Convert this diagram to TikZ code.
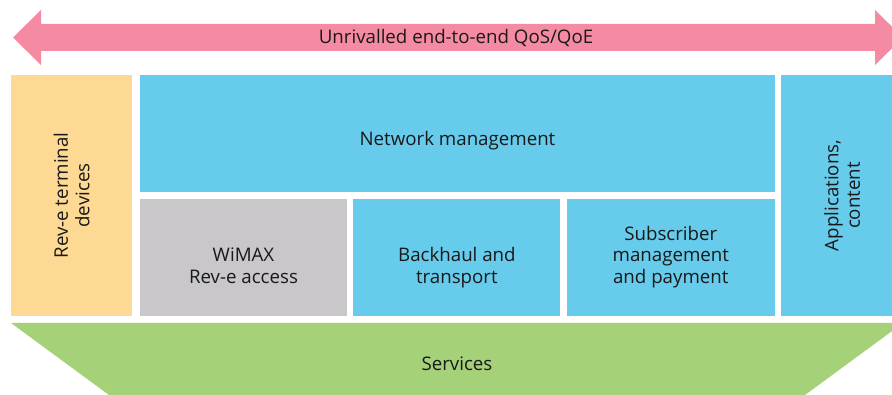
\documentclass[tikz,border=0pt]{standalone}
\usepackage{fontspec}
\setmainfont{Open Sans}
\usepackage{xcolor}
\usepackage{tikz}
\usetikzlibrary{positioning}

\definecolor{qospink}{HTML}{F58BA3}
\definecolor{devorange}{HTML}{FDD993}
\definecolor{netblue}{HTML}{67CBEB}
\definecolor{accgray}{HTML}{C9C7CA}
\definecolor{srvgreen}{HTML}{A5D178}

\tikzset{
  blk/.style={inner sep=0pt, align=center, text=black!90},
  bluebox/.style={blk, fill=netblue},
  rowbox/.style={minimum height=117, text height=51pt, text depth=0pt},
}

\begin{document}
\begin{tikzpicture}[x=1pt,y=-1pt,font=\fontsize{18.7}{21.5}\selectfont]
  \useasboundingbox (0,0) rectangle (892,395);
  \clip (0,0) rectangle (892,395);

  % the long double arrow on top
  \fill[qospink] (13,37.5) -- (41,10) -- (41,24) -- (875,24) -- (875,10)
     -- (903,37.5) -- (875,65) -- (875,51) -- (41,51) -- (41,65) -- cycle;
  \node[blk] (qos) at (456,38) {Unrivalled end-to-end QoS/QoE};

  % left and right columns
  \node[blk, fill=devorange, rotate=90, minimum width=241, minimum height=121] (dev) at (71.5,195.5) {Rev-e terminal\\devices};
  \node[bluebox, rotate=90, minimum width=241, minimum height=122] (apps) at (842,195.5) {Applications,\\content};

  % middle blocks
  \node[bluebox, minimum width=635, minimum height=117, text height=25pt, text depth=0pt] (netmgmt) at (457.5,133.5) {Network management};
  \node[blk, rowbox, fill=accgray, minimum width=207, below=7pt of netmgmt.south west, anchor=north west] (wimax) {WiMAX\\Rev-e access};
  \node[bluebox, rowbox, minimum width=207, right=6pt of wimax] (backhaul) {Backhaul and\\transport};
  \node[bluebox, rowbox, minimum width=208, right=6pt of backhaul] (subscr) {Subscriber\\management\\and payment};

  % services underneath
  \fill[srvgreen] (11,323) -- (903,323) -- (805,395) -- (109,395) -- cycle;
  \node[blk] (services) at (457,364) {Services};
\end{tikzpicture}
\end{document}
